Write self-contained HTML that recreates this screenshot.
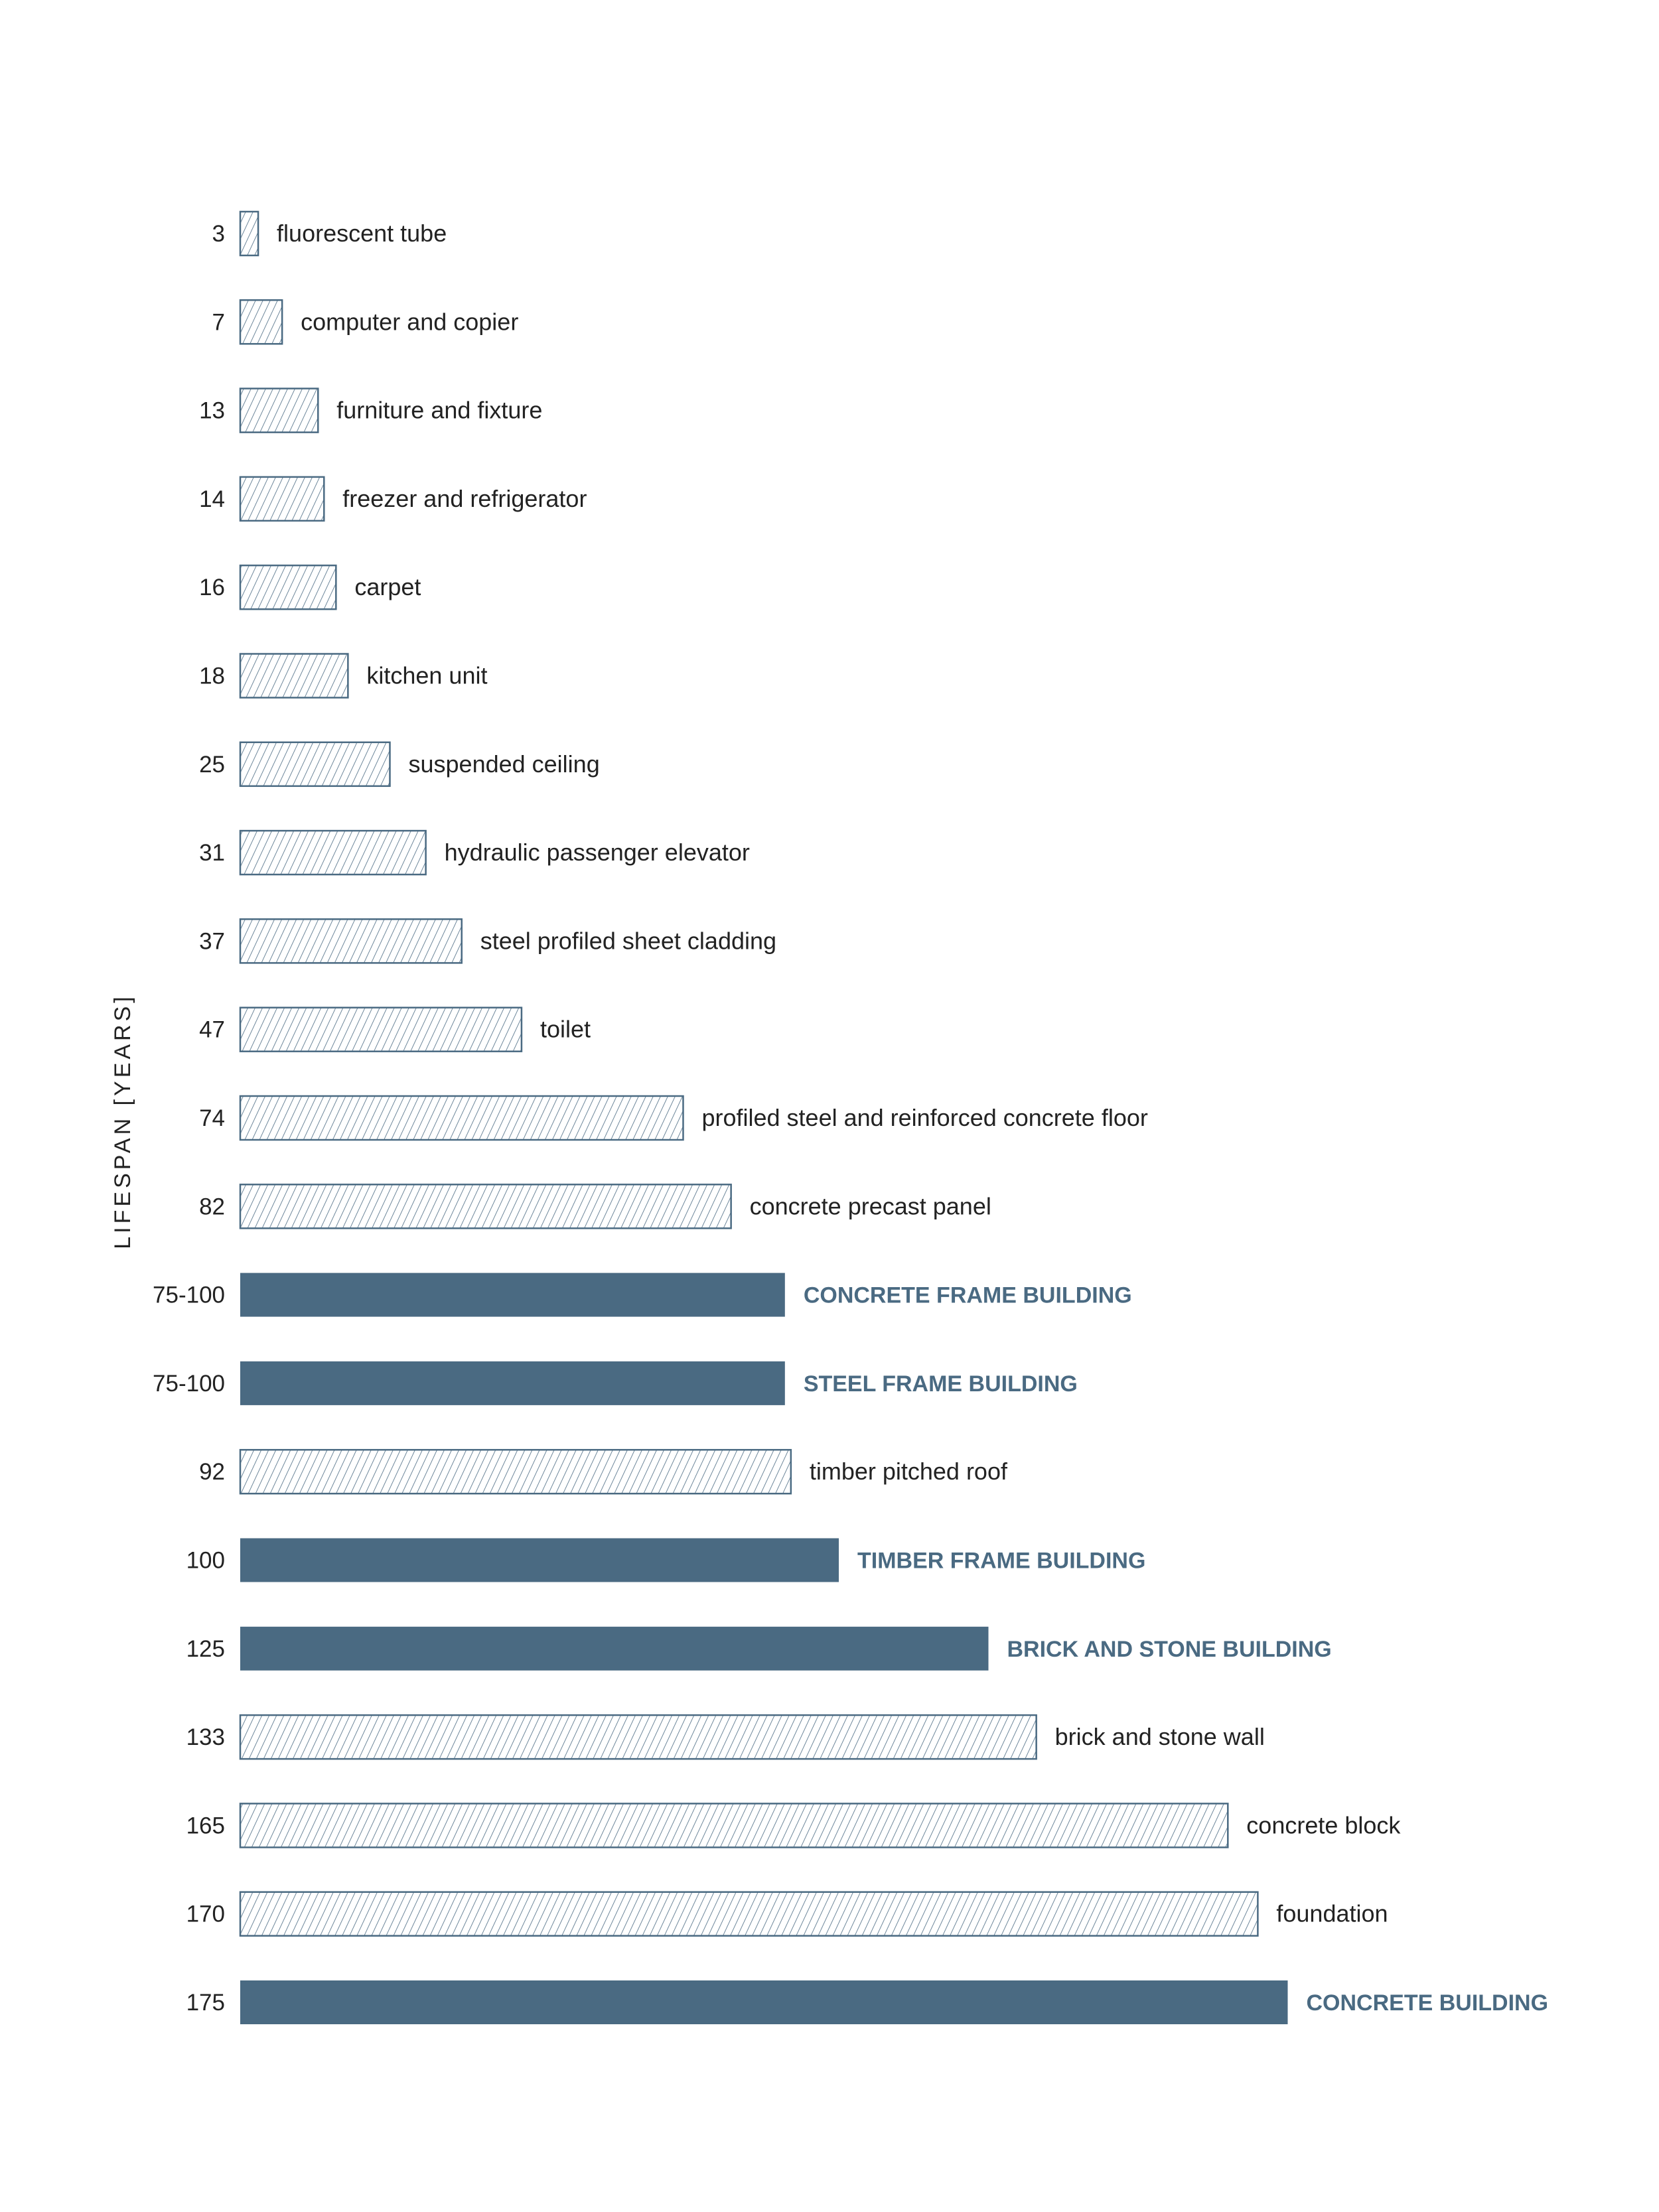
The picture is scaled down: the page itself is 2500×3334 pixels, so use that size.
<!DOCTYPE html>
<html><head><meta charset="utf-8"><style>
html,body{margin:0;padding:0;background:#fff;}
svg{display:block;font-family:"Liberation Sans",sans-serif;}
</style></head><body>
<svg id="chart" width="2500" height="3334" viewBox="0 0 2500 3334" xmlns="http://www.w3.org/2000/svg">
<defs>
<pattern id="hatch" patternUnits="userSpaceOnUse" width="10" height="10" patternTransform="rotate(25)">
<line x1="0" y1="0" x2="0" y2="10" stroke="#4a6a82" stroke-width="1.6"/>
</pattern>
</defs>
<text x="0" y="0" transform="translate(196,1690) rotate(-90)" text-anchor="middle" font-size="34" letter-spacing="5" fill="#222">LIFESPAN [YEARS]</text>
<g id="bars"></g>
</svg>
<script>
const categories = ["fluorescent tube","computer and copier","furniture and fixture","freezer and refrigerator","carpet","kitchen unit","suspended ceiling","hydraulic passenger elevator","steel profiled sheet cladding","toilet","profiled steel and reinforced concrete floor","concrete precast panel","CONCRETE FRAME BUILDING","STEEL FRAME BUILDING","timber pitched roof","TIMBER FRAME BUILDING","BRICK AND STONE BUILDING","brick and stone wall","concrete block","foundation","CONCRETE BUILDING"];
const values = [3,7,13,14,16,18,25,31,37,47,74,82,91,91,92,100,125,133,165,170,175];
const valueLabels = ["3","7","13","14","16","18","25","31","37","47","74","82","75-100","75-100","92","100","125","133","165","170","175"];
const isBuilding = [0,0,0,0,0,0,0,0,0,0,0,0,1,1,0,1,1,0,0,0,1];

const x0 = 362, pxPerYear = 9.02;
const y0 = 352, rowStep = 133.3, barH = 66;
const xScale = v => x0 + v * pxPerYear;
const yScale = i => y0 + i * rowStep;
const NS = "http://www.w3.org/2000/svg";
const g = document.getElementById("bars");
const slug = s => s.toLowerCase().replace(/[^a-z0-9]+/g,"-").replace(/^-|-$/g,"");
categories.forEach((c, i) => {
  const cy = yScale(i);
  const w = xScale(values[i]) - x0;
  const r = document.createElementNS(NS, "rect");
  r.setAttribute("x", x0); r.setAttribute("y", cy - barH/2);
  r.setAttribute("width", w); r.setAttribute("height", barH);
  if (isBuilding[i]) { r.setAttribute("fill", "#4a6a82"); }
  else { r.setAttribute("fill", "url(#hatch)"); r.setAttribute("stroke", "#4a6a82"); r.setAttribute("stroke-width", "2.5"); }
  
  
  g.appendChild(r);

  const vl = document.createElementNS(NS, "text");
  vl.setAttribute("x", 339); vl.setAttribute("y", cy + 12);
  vl.setAttribute("text-anchor", "end"); vl.setAttribute("font-size", "35"); vl.setAttribute("fill", "#222");
  vl.textContent = valueLabels[i];
  
  
  g.appendChild(vl);

  const cl = document.createElementNS(NS, "text");
  cl.setAttribute("x", xScale(values[i]) + 28); cl.setAttribute("y", cy + 12);
  cl.setAttribute("font-size", "36");
  if (isBuilding[i]) { cl.setAttribute("fill", "#4a6a82"); cl.setAttribute("font-weight", "bold"); cl.setAttribute("font-size", "34"); }
  else { cl.setAttribute("fill", "#222"); }
  cl.textContent = c;
  
  
  g.appendChild(cl);
});
</script>
</body></html>
